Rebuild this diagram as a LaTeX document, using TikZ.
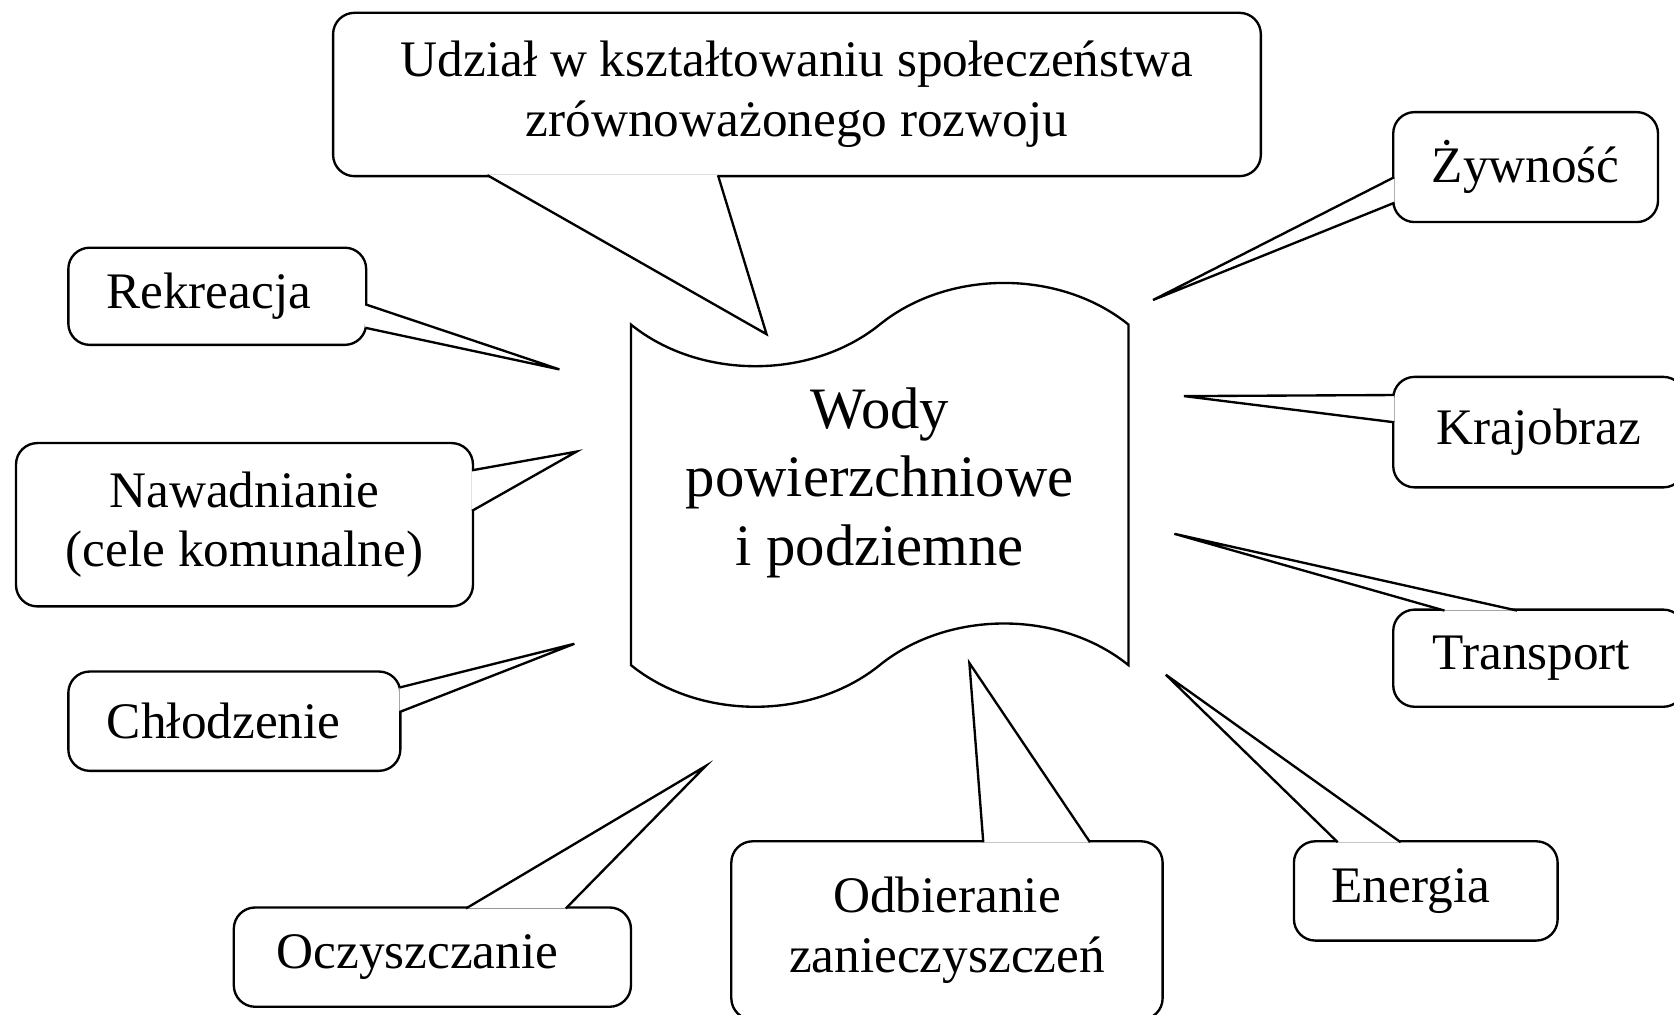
\documentclass[tikz,border=0pt]{standalone}
\usepackage{fontspec}
\setmainfont{Liberation Serif}
\usepackage{tikz}
\usetikzlibrary{calc}
\usetikzlibrary{shapes.symbols}
\tikzset{box/.style={draw, line width=1.1pt, rounded corners=10pt, align=center, font=\fontsize{24pt}{28pt}\selectfont}}
\tikzset{beak/.style={draw, fill=white, line width=1.1pt}}

\begin{document}
\begin{tikzpicture}[x=0.5pt,y=-0.5pt]
\useasboundingbox (0,0) rectangle (1568,950);
\clip (0,0) rectangle (1568,950);
% middle
\node (wody) at (824,463.5) [tape, draw, line width=1.1pt, minimum width=233pt, minimum height=198.5pt, tape bend height=39pt] {};
\node (wodyt) at (824,452) [align=center, font=\fontsize{27.5pt}{32pt}\selectfont] {Wody\\powierzchniowe\\i podziemne};
% callouts
\node (udz) at (746.5,88.5) [box, minimum width=434.5pt, minimum height=76.5pt] {Udział w kształtowaniu społeczeństwa\\zrównoważonego rozwoju};
\node (rek) at (203.5,277.5) [box, minimum width=139.5pt, minimum height=45.5pt] {Rekreacja\hspace*{8pt}};
\node (naw) at (229,491.5) [box, minimum width=214pt, minimum height=76.5pt] {Nawadnianie\\(cele komunalne)};
\node (chl) at (219.5,675.5) [box, minimum width=155.5pt, minimum height=46.5pt] {Chłodzenie\hspace*{10pt}};
\node (ocz) at (405,896.5) [box, minimum width=186pt, minimum height=46.5pt] {Oczyszczanie\hspace*{14pt}};
\node (odb) at (887,871.5) [box, minimum width=202pt, minimum height=83.5pt] {Odbieranie\\zanieczyszczeń};
\node (ene) at (1335.5,834.5) [box, minimum width=123.5pt, minimum height=46.5pt] {Energia\hspace*{14pt}};
\node (zyw) at (1429,156.5) [box, minimum width=124pt, minimum height=51.5pt] {Żywność};
\node (kra) at (1441.5,404.75) [box, minimum width=136.5pt, minimum height=51.75pt] {Krajobraz};
\node (tra) at (1441.5,616.5) [box, minimum width=136.5pt, minimum height=45.5pt] {Transport\hspace*{7pt}};
% pointer ends
\coordinate (tudz) at (718,313);
\coordinate (trek) at (524,346);
\coordinate (tnaw) at (540,423);
\coordinate (tchl) at (538,603);
\coordinate (tocz) at (661,717.5);
\coordinate (todb) at (908,621);
\coordinate (tene) at (1092,632);
\coordinate (tzyw) at (1080,281);
\coordinate (tkra) at (1109,371);
\coordinate (ttra) at (1100,500);
\filldraw[beak] ($(udz.south)+(-290,-2)$) -- (tudz) -- ($(udz.south)+(-74,-2)$);
\filldraw[beak] ($(rek.east)+(-2,7.5)$) -- (trek) -- ($(rek.east)+(-2,29.5)$);
\filldraw[beak] ($(naw.east)+(-2,-51)$) -- (tnaw) -- ($(naw.east)+(-2,-13)$);
\filldraw[beak] ($(chl.east)+(-2,-31.5)$) -- (tchl) -- ($(chl.east)+(-2,-8.5)$);
\filldraw[beak] ($(ocz.north)+(31.5,2)$) -- (tocz) -- ($(ocz.north)+(125,2)$);
\filldraw[beak] ($(odb.north)+(34,2)$) -- (todb) -- ($(odb.north)+(134,2)$);
\filldraw[beak] ($(ene.north)+(-82.5,2)$) -- (tene) -- ($(ene.north)+(-23.5,2)$);
\filldraw[beak] ($(zyw.west)+(2,9.5)$) -- (tzyw) -- ($(zyw.west)+(2,33.5)$);
\filldraw[beak] ($(kra.west)+(2,-34.75)$) -- (tkra) -- ($(kra.west)+(2,-9.25)$);
\filldraw[beak] ($(tra.north)+(-88.5,2)$) -- (ttra) -- ($(tra.north)+(-20.5,2)$);
\end{tikzpicture}
\end{document}
